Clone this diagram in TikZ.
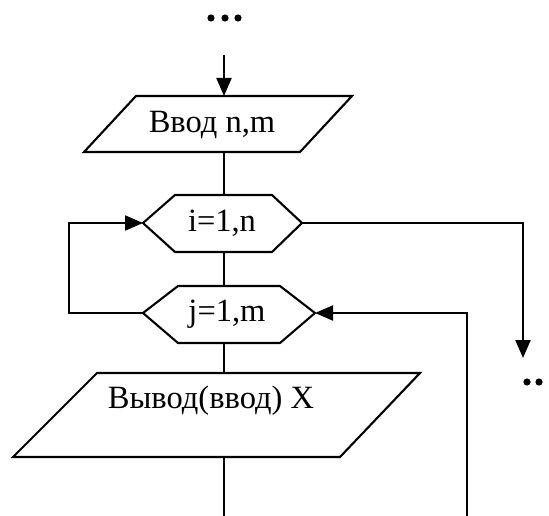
\documentclass[tikz,border=0pt]{standalone}
\usepackage{fontspec}
\setmainfont{Liberation Serif}
\usetikzlibrary{arrows.meta}
\begin{document}
\begin{tikzpicture}[x=1pt,y=-1pt,
  line/.style={line width=2.1pt},
  arr/.style={line width=2.1pt,-{Triangle[length=18pt,width=15pt]}},
  lbl/.style={font=\fontsize{32.5}{38}\selectfont,inner sep=0pt}]
\useasboundingbox (0,0) rectangle (549,516);
% continuation dots
\fill (211,18) circle (3.6) (225,18) circle (3.6) (238,18) circle (3.6);
\fill (527,382) circle (3.6) (539,382) circle (3.6);
% coordinates
\coordinate (top) at (224,55);
% input parallelogram
\coordinate (a1) at (136,96); \coordinate (a2) at (352,96);
\coordinate (a3) at (300,152); \coordinate (a4) at (84,152);
\coordinate (aT) at (224,96); \coordinate (aB) at (224,152);
\node[lbl] (inp) at (212,125) {Ввод n,m};
\draw[line] (a1)--(a2)--(a3)--(a4)--cycle;
% i hexagon
\coordinate (iL) at (143,223); \coordinate (iR) at (302,223);
\coordinate (iT) at (224,195); \coordinate (iB) at (224,252);
\draw[line] (iL)--(175,195)--(272,195)--(iR)--(272,252)--(175,252)--cycle;
\node[lbl] (il) at (222,223) {i=1,n};
% j hexagon
\coordinate (jL) at (143,313); \coordinate (jR) at (315,313);
\coordinate (jT) at (224,286); \coordinate (jB) at (224,343);
\draw[line] (jL)--(178,286)--(280,286)--(jR)--(280,343)--(178,343)--cycle;
\node[lbl] (jl) at (227,314) {j=1,m};
% output parallelogram
\coordinate (b1) at (97,373); \coordinate (b2) at (420,373);
\coordinate (b3) at (340,457); \coordinate (b4) at (13,457);
\coordinate (bT) at (224,373); \coordinate (bB) at (224,457);
\draw[line] (b1)--(b2)--(b3)--(b4)--cycle;
\node[lbl] (outp) at (211,401) {Вывод(ввод) X};
% free ends
\coordinate (bot) at (224,516);
\coordinate (exit) at (523,358);
\coordinate (back) at (467,516);
% connectors
\draw[arr] (top) -- (aT);
\draw[line] (aB) -- (iT);
\draw[line] (iB) -- (jT);
\draw[line] (jB) -- (bT);
\draw[line] (bB) -- (bot);
\draw[arr] (jL) -- (69,313) -- (69,223) -- (iL);
\draw[arr] (iR) -- (523,223) -- (exit);
\draw[arr] (back) -- (467,313) -- (jR);
\end{tikzpicture}
\end{document}
